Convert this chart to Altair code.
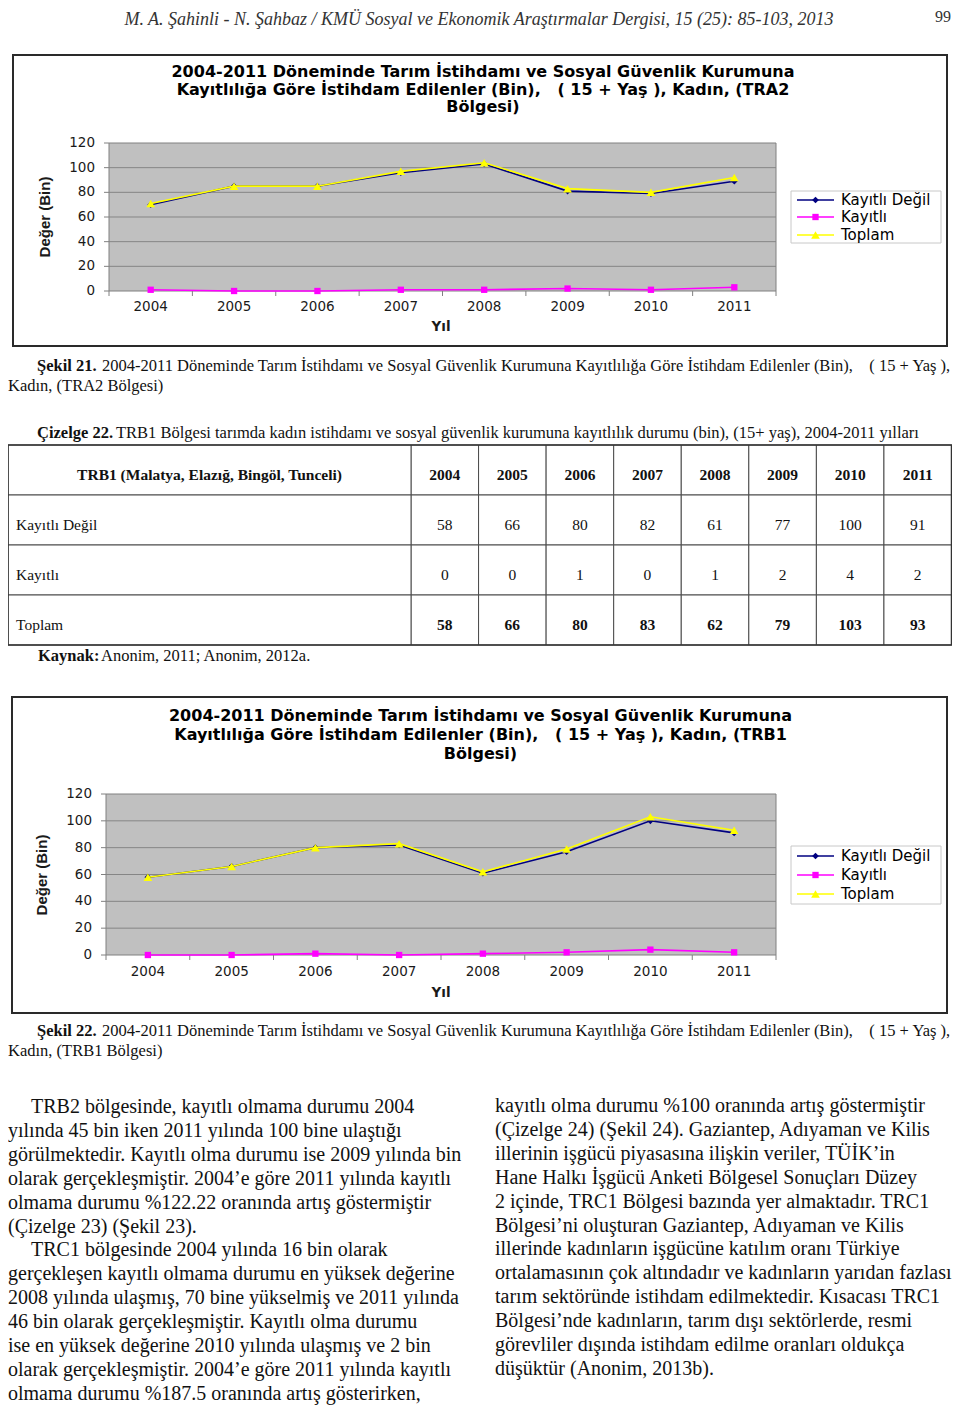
import altair as alt
import pandas as pd

# ---------------- data ----------------
years = ["2004", "2005", "2006", "2007", "2008", "2009", "2010", "2011"]
series_names = ["Kayıtlı Değil", "Kayıtlı", "Toplam"]

tra2_kayitli_degil = [70, 85, 85, 96, 103, 81, 79, 89]
tra2_kayitli = [1, 0, 0, 1, 1, 2, 1, 3]
tra2_toplam = [71, 85, 85, 97, 104, 83, 80, 92]

trb1_kayitli_degil = [58, 66, 80, 82, 61, 77, 100, 91]
trb1_kayitli = [0, 0, 1, 0, 1, 2, 4, 2]
trb1_toplam = [58, 66, 80, 83, 62, 79, 103, 93]

y_ticks = [0, 20, 40, 60, 80, 100, 120]

NB = "\u00a0"
header_text = "M. A. Şahinli - N. Şahbaz / KMÜ Sosyal ve Ekonomik Araştırmalar Dergisi, 15 (25): 85-103, 2013"
page_number = "99"

chart_title_1 = [
    "2004-2011 Döneminde Tarım İstihdamı ve Sosyal Güvenlik Kurumuna",
    "Kayıtlılığa Göre İstihdam Edilenler (Bin)," + NB * 3 + "( 15 + Yaş ), Kadın, (TRA2",
    "Bölgesi)",
]
chart_title_2 = [
    "2004-2011 Döneminde Tarım İstihdamı ve Sosyal Güvenlik Kurumuna",
    "Kayıtlılığa Göre İstihdam Edilenler (Bin)," + NB * 3 + "( 15 + Yaş ), Kadın, (TRB1",
    "Bölgesi)",
]
x_title = "Yıl"
y_title = "Değer (Bin)"

caption1_bold = "Şekil 21."
caption1_rest = ("2004-2011 Döneminde Tarım İstihdamı ve Sosyal Güvenlik Kurumuna Kayıtlılığa Göre "
                 "İstihdam Edilenler (Bin)," + NB * 4 + "( 15 + Yaş ),")
caption1_line2 = "Kadın, (TRA2 Bölgesi)"

table_title_bold = "Çizelge 22."
table_title_rest = ("TRB1 Bölgesi tarımda kadın istihdamı ve sosyal güvenlik kurumuna kayıtlılık "
                    "durumu (bin), (15+ yaş), 2004-2011 yılları")
table_header = "TRB1 (Malatya, Elazığ, Bingöl, Tunceli)"
source_bold = "Kaynak:"
source_rest = "Anonim, 2011; Anonim, 2012a."

caption2_bold = "Şekil 22."
caption2_rest = ("2004-2011 Döneminde Tarım İstihdamı ve Sosyal Güvenlik Kurumuna Kayıtlılığa Göre "
                 "İstihdam Edilenler (Bin)," + NB * 4 + "( 15 + Yaş ),")
caption2_line2 = "Kadın, (TRB1 Bölgesi)"

left_lines = [
    "TRB2 bölgesinde, kayıtlı olmama durumu 2004",
    "yılında 45 bin iken 2011 yılında 100 bine ulaştığı",
    "görülmektedir. Kayıtlı olma durumu ise 2009 yılında bin",
    "olarak gerçekleşmiştir. 2004’e göre 2011 yılında kayıtlı",
    "olmama durumu %122.22 oranında artış göstermiştir",
    "(Çizelge 23) (Şekil 23).",
    "TRC1 bölgesinde 2004 yılında 16 bin olarak",
    "gerçekleşen kayıtlı olmama durumu en yüksek değerine",
    "2008 yılında ulaşmış, 70 bine yükselmiş ve 2011 yılında",
    "46 bin olarak gerçekleşmiştir. Kayıtlı olma durumu",
    "ise en yüksek değerine 2010 yılında ulaşmış ve 2 bin",
    "olarak gerçekleşmiştir. 2004’e göre 2011 yılında kayıtlı",
    "olmama durumu %187.5 oranında artış gösterirken,",
]
left_indent = [1, 0, 0, 0, 0, 0, 1, 0, 0, 0, 0, 0, 0]
right_lines = [
    "kayıtlı olma durumu %100 oranında artış göstermiştir",
    "(Çizelge 24) (Şekil 24). Gaziantep, Adıyaman ve Kilis",
    "illerinin işgücü piyasasına ilişkin veriler, TÜİK’in",
    "Hane Halkı İşgücü Anketi Bölgesel Sonuçları Düzey",
    "2 içinde, TRC1 Bölgesi bazında yer almaktadır. TRC1",
    "Bölgesi’ni oluşturan Gaziantep, Adıyaman ve Kilis",
    "illerinde kadınların işgücüne katılım oranı Türkiye",
    "ortalamasının çok altındadır ve kadınların yarıdan fazlası",
    "tarım sektöründe istihdam edilmektedir. Kısacası TRC1",
    "Bölgesi’nde kadınların, tarım dışı sektörlerde, resmi",
    "görevliler dışında istihdam edilme oranları oldukça",
    "düşüktür (Anonim, 2013b).",
]
right_indent = [0] * len(right_lines)

# ---------------- styles ----------------
SERIF = "Liberation Serif"
SANS = "DejaVu Sans"
NARROW = "Liberation Sans Narrow, Liberation Sans"
COLORS = ["#000080", "#ff00ff", "#ffff00"]
SHAPES = ["diamond", "square", "triangle-up"]
SIZES = [45, 40, 75]
ONE = pd.DataFrame({"t": [""]})


def label(s, x, y, size, font=SERIF, weight="normal", style="normal",
          align="left", angle=0, color="#111111"):
    kw = dict(font=font, fontSize=size, fontWeight=weight, fontStyle=style,
              align=align, baseline="middle", color=color)
    if angle:
        kw["angle"] = angle
    return alt.Chart(pd.DataFrame({"t": [s]})).mark_text(**kw).encode(
        x=alt.value(x), y=alt.value(y), text="t:N")


def box(x0, y0, x1, y1, fill="white", stroke="#000000", sw=1.0, fo=1.0):
    return alt.Chart(ONE).mark_rect(fill=fill, fillOpacity=fo, stroke=stroke,
                                    strokeWidth=sw).encode(
        x=alt.value(x0), x2=alt.value(x1), y=alt.value(y0), y2=alt.value(y1))


def segment(x0, x1, y, color, sw):
    return alt.Chart(ONE).mark_rule(color=color, strokeWidth=sw).encode(
        x=alt.value(x0), x2=alt.value(x1), y=alt.value(y))


def line_chart(cfg, titles, values):
    X0, X1, YT, YB = cfg["plot"]
    step = (X1 - X0) / len(years)
    xsc = alt.Scale(type="point", domain=years, range=[X0, X1], padding=0.5)
    ysc = alt.Scale(type="linear", domain=[0, 120], range=[YB, YT], nice=False, zero=False)
    X = alt.X("year:N", scale=xsc, axis=None)
    Y = alt.Y("v:Q", scale=ysc, axis=None)
    fx0, fy0, fx1, fy1 = cfg["frame"]
    layers = [box(fx0, fy0, fx1, fy1, fill="white", stroke="#2a2a2a", sw=2)]
    for t, ty in zip(titles, cfg["title_y"]):
        layers.append(label(t, cfg["cx"], ty, 16, font=SANS, weight="bold",
                            align="center", color="#000000"))
    # plot background
    layers.append(box(X0, YT, X1, YB, fill="#c0c0c0", stroke="#808080", sw=1))
    ticks = pd.DataFrame({"v": y_ticks})
    inner = pd.DataFrame({"v": [v for v in y_ticks if 0 < v < 120]})
    layers.append(alt.Chart(inner).mark_rule(color="#858585", strokeWidth=1).encode(
        y=Y, x=alt.value(X0), x2=alt.value(X1)))
    layers.append(alt.Chart(ticks).mark_rule(color="#808080", strokeWidth=1).encode(
        y=Y, x=alt.value(X0 - 5), x2=alt.value(X0)))
    layers.append(alt.Chart(ticks).mark_text(font=SANS, fontSize=13.5, align="right",
                                             baseline="middle", color="#1a1a1a").encode(
        y=Y, x=alt.value(cfg["ylab_x"]), text="v:Q"))
    ydf = pd.DataFrame({"year": years})
    layers.append(alt.Chart(ydf).mark_rule(color="#808080", strokeWidth=1, xOffset=-step / 2).encode(
        x=X, y=alt.value(YB), y2=alt.value(YB + 5)))
    layers.append(alt.Chart(ydf.tail(1)).mark_rule(color="#808080", strokeWidth=1, xOffset=step / 2).encode(
        x=X, y=alt.value(YB), y2=alt.value(YB + 5)))
    layers.append(alt.Chart(ydf).mark_text(font=SANS, fontSize=13.5, baseline="middle",
                                           color="#1a1a1a").encode(
        x=X, y=alt.value(cfg["xlab_y"]), text="year:N"))
    layers.append(label(x_title, cfg["yil"][0], cfg["yil"][1], 13.5, font=SANS,
                        weight="bold", align="center", color="#1a1a1a"))
    layers.append(label(y_title, cfg["ytitle"][0], cfg["ytitle"][1], 15, font=NARROW,
                        weight="bold", align="center", angle=270, color="#1a1a1a"))
    # series
    for vals, col, shp, sz in zip(values, COLORS, SHAPES, SIZES):
        df = pd.DataFrame({"year": years, "v": vals})
        layers.append(alt.Chart(df).mark_line(color=col, strokeWidth=1.6).encode(x=X, y=Y))
        layers.append(alt.Chart(df).mark_point(shape=shp, filled=True, size=sz, color=col,
                                               opacity=1).encode(x=X, y=Y))
    # legend
    lx0, ly0, lx1, ly1 = cfg["legend_box"]
    layers.append(box(lx0, ly0, lx1, ly1, fill="white", stroke="#c8c8c8", sw=1))
    for name, col, shp, sz, ly in zip(series_names, COLORS, SHAPES, SIZES, cfg["legend_y"]):
        layers.append(segment(lx0 + 6, lx0 + 43, ly, col, 1.6))
        layers.append(alt.Chart(ONE).mark_point(shape=shp, filled=True, size=sz, color=col,
                                                opacity=1).encode(
            x=alt.value(lx0 + 24.5), y=alt.value(ly)))
        layers.append(label(name, lx0 + 50, ly, 15, font=SANS, color="#000000"))
    return alt.layer(*layers)


def text_block(lines, indents, x, y0, step, size):
    n = len(lines)
    df = pd.DataFrame({"i": list(range(n)), "t": lines, "ind": indents})
    return alt.Chart(df).mark_text(font=SERIF, fontSize=size, align="left",
                                   baseline="middle", color="#111111").encode(
        x=alt.X("ind:Q", scale=alt.Scale(domain=[0, 1], range=[x, x + 23], nice=False, zero=False), axis=None),
        y=alt.Y("i:Q", scale=alt.Scale(domain=[0, n - 1], range=[y0, y0 + (n - 1) * step],
                                       nice=False, zero=False), axis=None),
        text="t:N")


def table():
    row_keys = ["H", "D", "K", "T"]
    xsc = alt.Scale(type="band", domain=years, range=[403, 943.5], paddingInner=0, paddingOuter=0)
    ysc = alt.Scale(type="band", domain=row_keys, range=[437, 637], paddingInner=0, paddingOuter=0)
    XR = alt.X("year:N", scale=xsc, axis=None)
    YR = alt.Y("row:N", scale=ysc, axis=None)
    XT = alt.X("year:N", scale=xsc, axis=None, bandPosition=0.5)
    YT = alt.Y("row:N", scale=ysc, axis=None, bandPosition=0.5)
    cells = pd.DataFrame([{"year": y, "row": r} for r in row_keys for y in years])
    layers = []
    layers.append(alt.Chart(cells).mark_rect(fill="white", stroke="#4a4a4a", strokeWidth=1).encode(x=XR, y=YR))
    layers.append(alt.Chart(pd.DataFrame({"row": row_keys})).mark_rect(
        fill="white", stroke="#4a4a4a", strokeWidth=1).encode(x=alt.value(0), x2=alt.value(403), y=YR))
    txt = dict(font=SERIF, fontSize=15.5, baseline="middle", dy=5, color="#111111")
    layers.append(alt.Chart(pd.DataFrame({"year": years, "row": ["H"] * len(years)})).mark_text(
        fontWeight="bold", **txt).encode(x=XT, y=YT, text="year:N"))
    layers.append(alt.Chart(pd.DataFrame({"row": ["H"], "t": [table_header]})).mark_text(
        fontWeight="bold", **txt).encode(x=alt.value(201.5), y=YT, text="t:N"))
    layers.append(alt.Chart(pd.DataFrame({"row": ["D", "K", "T"], "t": series_names})).mark_text(
        align="left", **txt).encode(x=alt.value(8), y=YT, text="t:N"))
    plain = pd.DataFrame(
        [{"year": y, "row": "D", "t": str(v)} for y, v in zip(years, trb1_kayitli_degil)]
        + [{"year": y, "row": "K", "t": str(v)} for y, v in zip(years, trb1_kayitli)])
    bold = pd.DataFrame([{"year": y, "row": "T", "t": str(v)} for y, v in zip(years, trb1_toplam)])
    layers.append(alt.Chart(plain).mark_text(**txt).encode(x=XT, y=YT, text="t:N"))
    layers.append(alt.Chart(bold).mark_text(fontWeight="bold", **txt).encode(x=XT, y=YT, text="t:N"))
    layers.append(box(0, 437, 943.5, 637, fill="white", fo=0, stroke="#333333", sw=1.5))
    return alt.layer(*layers)


c1 = dict(frame=(5, 47, 939, 338), plot=(101, 768, 135, 283), cx=475, title_y=[64, 82, 99],
          legend_box=(783, 183, 933, 235), legend_y=[192, 209, 227], ylab_x=87, xlab_y=299,
          yil=(433, 319), ytitle=(37, 209))
c2 = dict(frame=(4, 689, 939, 1005), plot=(98, 768, 786, 947), cx=472.5, title_y=[708, 727, 746],
          legend_box=(783, 838, 933, 896), legend_y=[848, 867, 886], ylab_x=84, xlab_y=964,
          yil=(433, 985), ytitle=(34, 867))

CAP = 16.5
layers = [
    label(header_text, 471, 12, 18, style="italic", align="center", color="#333333"),
    label(page_number, 943, 9, 16, align="right", color="#333333"),
    line_chart(c1, chart_title_1, [tra2_kayitli_degil, tra2_kayitli, tra2_toplam]),
    label(caption1_bold, 29, 358, CAP, weight="bold"),
    label(caption1_rest, 94, 358, CAP),
    label(caption1_line2, 0, 378, CAP),
    label(table_title_bold, 29, 425, CAP, weight="bold"),
    label(table_title_rest, 108, 425, CAP),
    table(),
    label(source_bold, 30, 648, CAP, weight="bold"),
    label(source_rest, 93, 648, CAP),
    line_chart(c2, chart_title_2, [trb1_kayitli_degil, trb1_kayitli, trb1_toplam]),
    label(caption2_bold, 29, 1023, CAP, weight="bold"),
    label(caption2_rest, 94, 1023, CAP),
    label(caption2_line2, 0, 1043, CAP),
    text_block(left_lines, left_indent, 0, 1099, 23.9, 20),
    text_block(right_lines, right_indent, 487, 1098, 23.9, 20),
]

chart = alt.layer(*layers).resolve_scale(x="independent", y="independent").properties(
    width=944, height=1397, padding=0, background="white",
    autosize=alt.AutoSizeParams(type="none"),
).configure_view(stroke=None)

chart.save("out.html", embed_options={"renderer": "svg", "actions": False})
